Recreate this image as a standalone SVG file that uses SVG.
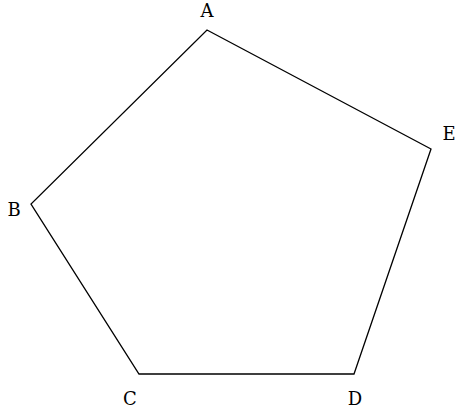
<svg xmlns="http://www.w3.org/2000/svg" width="462" height="408" viewBox="0 0 462 408">
<style>
.edge{fill:none;stroke:#000;stroke-width:1.3;stroke-linejoin:miter}
.lbl{font-family:"DejaVu Serif","Liberation Serif",serif;font-size:18px;fill:#000;text-anchor:middle}
</style>
<rect width="462" height="408" fill="#fff"/>
<g id="connectors">
<polygon class="edge" points="207,30 431,149 354,374 139,374 31,204"/>
</g>
<g id="A"><text class="lbl" x="207" y="17">A</text></g>
<g id="E"><text class="lbl" x="449" y="140">E</text></g>
<g id="D"><text class="lbl" x="355" y="405">D</text></g>
<g id="C"><text class="lbl" x="130" y="405">C</text></g>
<g id="B"><text class="lbl" x="14" y="216">B</text></g>
</svg>
